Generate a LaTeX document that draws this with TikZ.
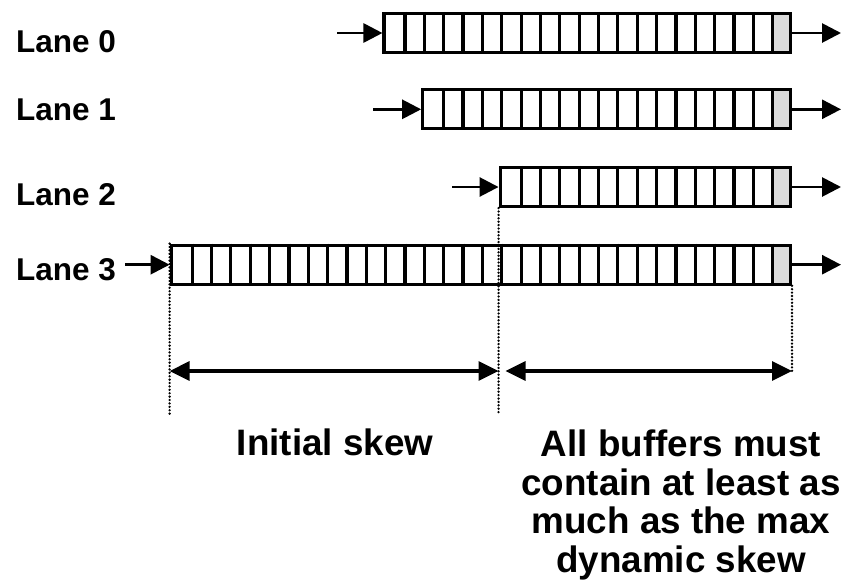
\documentclass[tikz,border=0pt]{standalone}
\usepackage{fontspec}
\setmainfont{Liberation Sans}
\usetikzlibrary{arrows.meta,backgrounds}
\begin{document}
\begin{tikzpicture}[x=1pt,y=-1pt,
  lanelabel/.style={font=\bfseries\fontsize{31.5}{31.5}\selectfont, anchor=base west, inner sep=0},
  buffer/.style={draw, line width=3.2pt, minimum height=39pt, inner sep=0, anchor=east},
  cellline/.style={line width=3.2pt},
  lastcell/.style={fill=black!14},
  flow/.style={line width=2.8pt, -{Triangle[length=19pt,width=19pt]}},
  guide/.style={line width=2.6pt, line cap=round, dash pattern=on 0pt off 3.4pt},
  span/.style={line width=3.2pt, {Triangle[length=20pt,width=19pt]}-{Triangle[length=20pt,width=19pt]}},
  caption/.style={font=\bfseries\fontsize{36.8}{38.5}\selectfont, align=center, inner sep=0}]

\useasboundingbox (0,0) rectangle (842,587);

% cell pitch of every lane buffer
\def\cw{19.35}

% lane buffers: number of cells, centre line, input start, label baseline
\foreach \lane/\n/\yc/\xin/\yl in {0/21/33/337/52, 1/19/109.3/373/120, 2/15/187/452/205, 3/32/264.7/125/280}{
  \pgfmathsetmacro{\bufwd}{\n*\cw}
  \node[buffer, minimum width=\bufwd pt] (buf\lane) at (792,\yc) {};
  \begin{scope}[on background layer]
    \fill[lastcell] (buf\lane.north east) rectangle ([xshift=-\cw pt]buf\lane.south east);
  \end{scope}
  \pgfmathtruncatemacro{\ncut}{\n-1}
  \foreach \k in {1,...,\ncut}{
    \draw[cellline] ([xshift=-\k*\cw pt]buf\lane.north east) -- ([xshift=-\k*\cw pt]buf\lane.south east);
  }
  \coordinate (in\lane) at (\xin,\yc);
  \coordinate (out\lane) at (841,\yc);
  \draw[flow] (in\lane) -- (buf\lane.west);
  \draw[flow] (buf\lane.east) -- (out\lane);
  \node[lanelabel] (label\lane) at (16,\yl) {Lane \lane};
}

% guide lines and spans below the buffers
\coordinate (guideend) at (0,414);
\coordinate (dimrow) at (0,371);
\coordinate (gA) at (buf3.north west |- guideend);
\coordinate (gB) at (buf2.south west |- guideend);
\coordinate (gC) at (buf3.south east |- dimrow);
\draw[guide] (buf3.north west) -- (gA);
\draw[guide] (buf2.south west) -- (gB);
\draw[guide] (buf3.south east) -- (gC);

\coordinate (sA) at (buf3.north west |- dimrow);
\coordinate (sB) at (buf2.south west |- dimrow);
\coordinate (sB2) at ([xshift=7pt]sB);
\draw[span] (sA) -- (sB);
\draw[span] (sB2) -- (gC);

\node[caption, anchor=base] (initial) at (335,455) {Initial skew};
\node[caption, anchor=north] (minbuf) at (681,430) {All buffers must\\contain at least as\\much as the max\\dynamic skew};
\end{tikzpicture}
\end{document}
